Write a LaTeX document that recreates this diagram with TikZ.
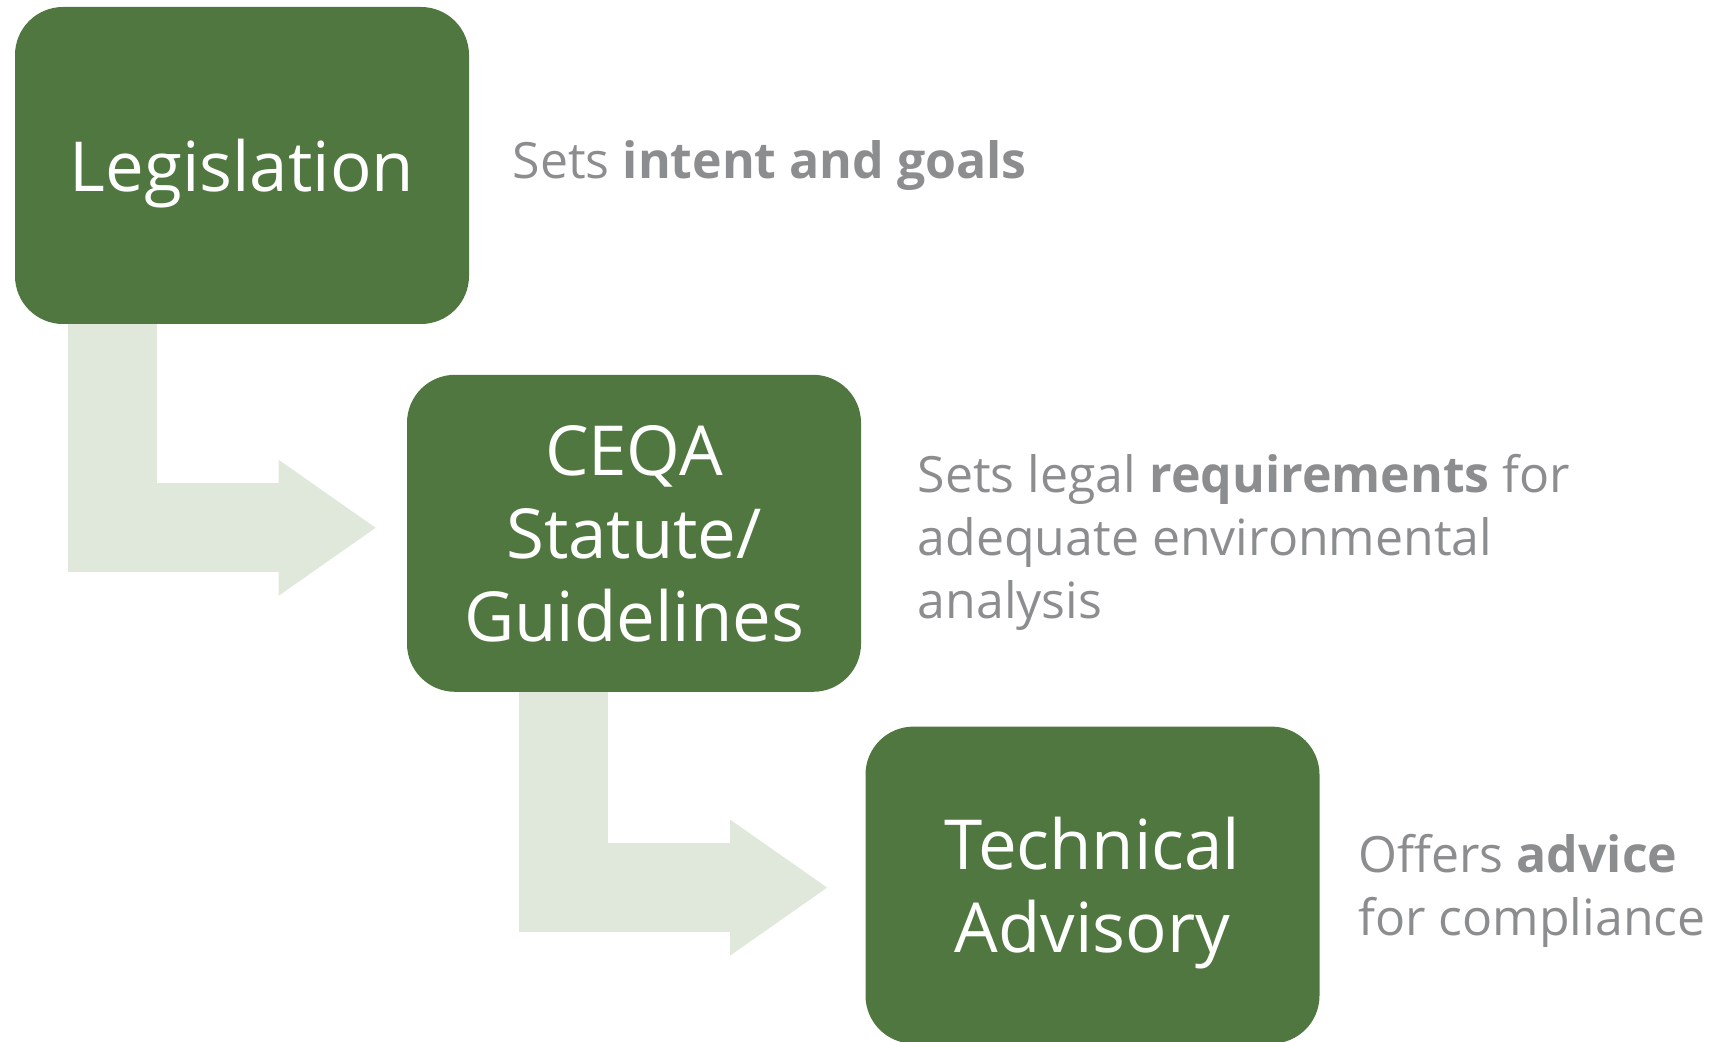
\documentclass[tikz,border=0pt]{standalone}
\usepackage{fontspec}
\setmainfont{Open Sans}
\usetikzlibrary{arrows.meta,positioning}
\definecolor{boxgreen}{RGB}{79,119,63}
\definecolor{flowgreen}{RGB}{223,232,219}
\definecolor{notegray}{RGB}{140,141,143}

\begin{document}
\begin{tikzpicture}[
    stage/.style={rectangle, fill=boxgreen, text=white, minimum width=227pt, minimum height=158.5pt, rounded corners=24pt, align=center, inner sep=0pt, text depth=0pt, font=\fontsize{34.5}{41.5}\selectfont},
    note/.style={anchor=west, text=notegray, align=left, inner sep=0pt, font=\fontsize{25}{31.5}\selectfont},
    flow/.style={draw=flowgreen, line width=44.5pt, -{Triangle[length=48.5pt,width=68pt,line width=0pt]}}
]
\useasboundingbox (0,0) rectangle (861.5pt,-521pt);

% Stages
\node[stage] (legislation) at (121pt,-82.75pt) {Legislation};
\node[stage, below=25pt of legislation, xshift=196pt] (ceqa) {CEQA\\Statute/\\Guidelines};
\node[stage, below=17pt of ceqa, xshift=229.25pt] (advisory) {Technical\\Advisory};

% Notes
\node[note, right=21.5pt of legislation] (intent) {Sets \textbf{intent and goals}};
\node[note, right=28pt of ceqa, yshift=-4.5pt] (requirements) {Sets legal \textbf{requirements} for\\adequate environmental\\analysis};
\node[note, right=19pt of advisory, yshift=-3pt] (advice) {Offers \textbf{advice}\\for compliance};

% Flows
\draw[flow] ([xshift=48.75pt]legislation.south west) |- ([xshift=-15.5pt,yshift=2.75pt]ceqa.west);
\draw[flow] ([xshift=78.5pt]ceqa.south west) |- ([xshift=-19pt,yshift=-1.25pt]advisory.west);

\end{tikzpicture}
\end{document}
